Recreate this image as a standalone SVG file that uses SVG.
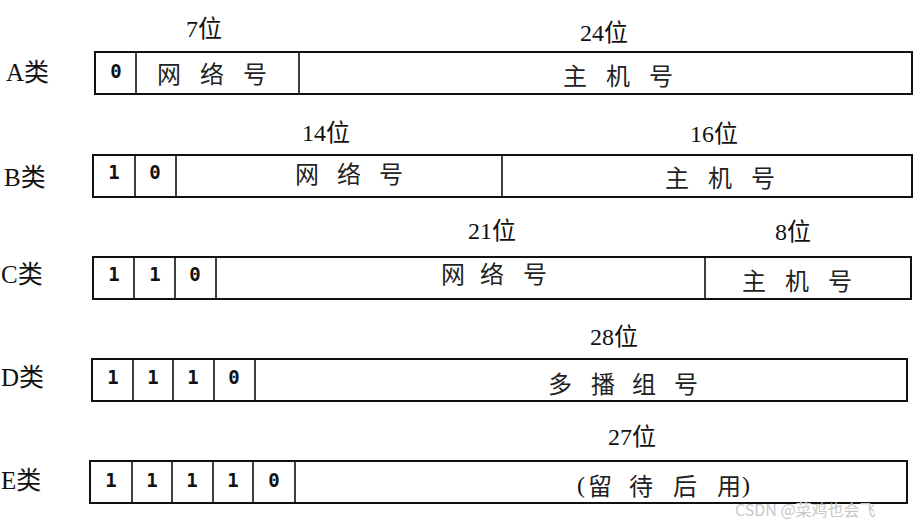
<svg xmlns="http://www.w3.org/2000/svg" width="920" height="524" viewBox="0 0 920 524">
<style>
.box{fill:#fff;stroke:#111;stroke-width:2}
.div{stroke:#111;stroke-width:1.6}
.lbl{font-family:"Liberation Serif","Noto Sans CJK SC",serif;font-size:25px;fill:#111}
.bits{font-family:"Liberation Serif","Noto Sans CJK SC",serif;font-size:24px;fill:#111}
.cjk{font-family:"Noto Sans CJK SC","Noto Sans",sans-serif;font-size:24px;fill:#222;dominant-baseline:central}
.dig{font-family:"DejaVu Sans Mono",monospace;font-weight:bold;font-size:19px;fill:#111;text-anchor:middle;dominant-baseline:central}
.wm{font-family:"Noto Sans CJK SC","Noto Sans",sans-serif;font-size:16px;fill:#c8c8c8}
</style>
<rect width="920" height="524" fill="#fff"/>
<g id="classA">
<text class="lbl" x="6" y="81">A类</text>
<text class="bits" x="186" y="37">7位</text>
<text class="bits" x="580" y="41">24位</text>
<rect class="box" x="95" y="52" width="817" height="42"/>
<line class="div" x1="136" y1="52" x2="136" y2="94"/>
<line class="div" x1="299" y1="52" x2="299" y2="94"/>
<text class="dig" x="116" y="71">0</text>
<text class="cjk" x="157 200 243" y="72">网络号</text>
<text class="cjk" x="563 606 649" y="74">主机号</text>
</g>
<g id="classB">
<text class="lbl" x="4" y="186">B类</text>
<text class="bits" x="302" y="141">14位</text>
<text class="bits" x="690" y="142">16位</text>
<rect class="box" x="93" y="155" width="819" height="42"/>
<line class="div" x1="135" y1="155" x2="135" y2="197"/>
<line class="div" x1="176" y1="155" x2="176" y2="197"/>
<line class="div" x1="502" y1="155" x2="502" y2="197"/>
<text class="dig" x="114" y="172">1</text>
<text class="dig" x="155" y="172">0</text>
<text class="cjk" x="295 337 379" y="172">网络号</text>
<text class="cjk" x="665 708 751" y="176">主机号</text>
</g>
<g id="classC">
<text class="lbl" x="1" y="283">C类</text>
<text class="bits" x="468" y="239">21位</text>
<text class="bits" x="775" y="240">8位</text>
<rect class="box" x="93" y="257" width="818" height="42"/>
<line class="div" x1="134" y1="257" x2="134" y2="299"/>
<line class="div" x1="175" y1="257" x2="175" y2="299"/>
<line class="div" x1="216" y1="257" x2="216" y2="299"/>
<line class="div" x1="705" y1="257" x2="705" y2="299"/>
<text class="dig" x="114" y="274">1</text>
<text class="dig" x="155" y="274">1</text>
<text class="dig" x="195" y="274">0</text>
<text class="cjk" x="441 480 523" y="272">网络号</text>
<text class="cjk" x="742 785 828" y="279">主机号</text>
</g>
<g id="classD">
<text class="lbl" x="1" y="386">D类</text>
<text class="bits" x="590" y="345">28位</text>
<rect class="box" x="92" y="359" width="815" height="42"/>
<line class="div" x1="133" y1="359" x2="133" y2="401"/>
<line class="div" x1="173" y1="359" x2="173" y2="401"/>
<line class="div" x1="214" y1="359" x2="214" y2="401"/>
<line class="div" x1="255" y1="359" x2="255" y2="401"/>
<text class="dig" x="113" y="377">1</text>
<text class="dig" x="153" y="377">1</text>
<text class="dig" x="193" y="377">1</text>
<text class="dig" x="234" y="377">0</text>
<text class="cjk" x="548 591 632 674" y="382">多播组号</text>
</g>
<g id="classE">
<text class="lbl" x="1" y="489">E类</text>
<text class="bits" x="608" y="445">27位</text>
<rect class="box" x="90" y="461" width="817" height="42"/>
<line class="div" x1="132" y1="461" x2="132" y2="503"/>
<line class="div" x1="172" y1="461" x2="172" y2="503"/>
<line class="div" x1="213" y1="461" x2="213" y2="503"/>
<line class="div" x1="253" y1="461" x2="253" y2="503"/>
<line class="div" x1="295" y1="461" x2="295" y2="503"/>
<text class="dig" x="111" y="480">1</text>
<text class="dig" x="152" y="480">1</text>
<text class="dig" x="192" y="480">1</text>
<text class="dig" x="233" y="480">1</text>
<text class="dig" x="274" y="480">0</text>
<text class="bits" x="577" y="493">(</text>
<text class="cjk" x="588 629 673 717" y="484">留待后用</text>
<text class="bits" x="742" y="493">)</text>
</g>
<g id="connectors"></g>
<text class="wm" x="735" y="516">CSDN @菜鸡也会飞</text>
</svg>
